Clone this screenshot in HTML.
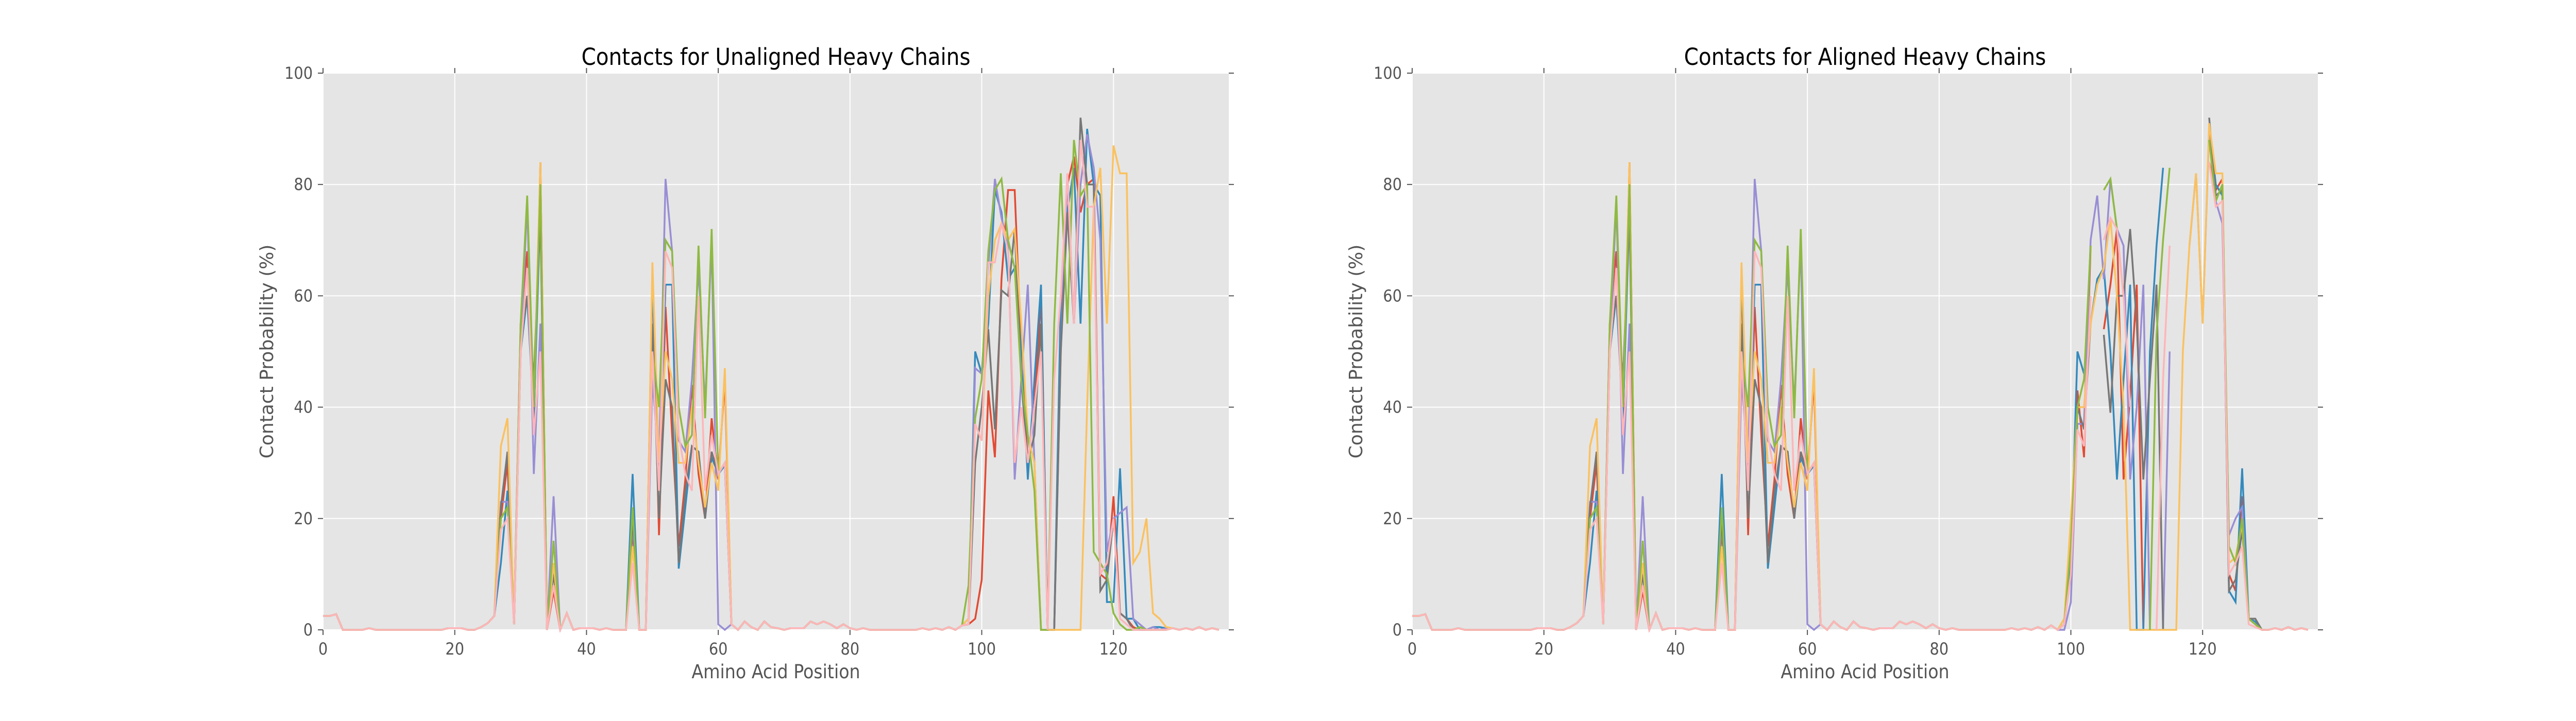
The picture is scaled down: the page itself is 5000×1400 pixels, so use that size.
<!DOCTYPE html>
<html><head><meta charset="utf-8"><style>
html,body{margin:0;padding:0;background:#fff;}
svg{display:block;}
text{font-family:"DejaVu Sans Condensed","Liberation Sans Narrow","Liberation Sans",sans-serif;}
</style></head>
<body>
<svg id="fig" width="5000" height="1400" viewBox="0 0 5000 1400" xmlns="http://www.w3.org/2000/svg"></svg>
<script>
const xTicks = [0,20,40,60,80,100,120];
const yTicks = [0,20,40,60,80,100];
const colors = ["#E24A33","#348ABD","#988ED5","#777777","#FBC15E","#8EBA42","#FFB5B8"];
const seriesNames = ["red","blue","purple","gray","yellow","green","pink"];
const baselineNonzero = [[0,2.5],[1,2.5],[2,2.8],[7,0.3],[19,0.3],[20,0.3],[21,0.3],[24,0.5],[25,1.2],[26,2.5],[39,0.3],[40,0.3],[41,0.3],[43,0.3],[64,1.5],[65,0.5],[67,1.5],[68,0.5],[69,0.3],[71,0.3],[72,0.3],[73,0.3],[74,1.5],[75,1],[76,1.5],[77,1],[78,0.3],[79,1],[80,0.3],[82,0.3],[91,0.3],[93,0.3],[95,0.5],[97,0.8],[129,0.3],[131,0.3],[133,0.5],[135,0.3]];
const region1Start = 27, region2Start = 47, region3Start = 98;
const r1 = {
 red:[20,30,1,55,68,37,84,0,7,0,3,0],
 blue:[12,25,1,50,60,38,76,0,12,0,3,0],
 purple:[23,23,1,50,77,28,55,0,24,0,3,0],
 gray:[22,32,1,52,60,45,75,0,10,0,3,0],
 yellow:[33,38,1,50,65,40,84,0,12,0,3,0],
 green:[20,22,1,55,78,40,80,0,16,0,3,0],
 pink:[18,20,1,50,65,35,50,0,8,0,3,0]
};
const r2 = {
 red:[18,0,0,64,17,58,35,15,27,44,28,20,38,27,45,1],
 blue:[28,0,0,64,25,62,62,11,22,33,32,20,31,28,29.5,1],
 purple:[19,0,0,45,30,81,68,34,32,45,65,40,70,1,0,1],
 gray:[20,0,0,55,20,45,40,12,25,33,32,20,32,28,30,1],
 yellow:[15,0,0,66,30,50,45,30,30,40,30,22,30,25,47,1],
 green:[22,0,0,50,40,70,68,40,33,35,69,38,72,28,30,1],
 pink:[12,0,0,50,25,68,65,35,28,25,60,25,35,28,30,1]
};
const r3Unaligned = {
 red:[1,2,9,43,31,63,79,79,50,30,40,60,0,0,55,80,85,75,80,81,10,9,24,3,2,0.5,0,0,0,0,0],
 blue:[2,50,46,55,79,75,63,65,50,27,45,62,0,0,60,75,83,55,90,80,78,5,5,29,2,2,0,0,0.5,0.5,0.3],
 purple:[1,47,46,65,81,74,69,27,45,62,30,0,0,0,50,82,55,80,89,83,70,14,20,21,22,2,1,0,0.5,0,0.3],
 gray:[1,30,40,54,36,61,60,72,45,30,35,55,0,0,50,75,55,92,80,80,7,9,20,3,2,0,0,0,0,0,0],
 yellow:[2,37,34,60,70,73,70,72,55,35,30,0,0,0,0,0,0,0,40,76,83,55,87,82,82,12,14,20,3,2,0.5],
 green:[8,38,45,68,79,81,70,65,45,35,25,0,0,55,82,55,88,78,80,14,12,10,3,1,0,0,0.5,0,0,0,0],
 pink:[1,37,34,66,66,73,68,30,40,30,40,50,0,45,60,82,55,88,76,76,10,12,20,2,1,0,0,0,0,0,0]
};
const r3Aligned = {
 red:[0,1,12,43,31,69,null,54,62,72,27,42,62,0,null,null,null,null,null,null,null,null,null,84,79,81,10,7,24,2,1,0],
 blue:[0,2,12,50,46,55,63,65,50,27,45,62,0,0,50,69,83,null,null,null,null,null,null,91,80,78,7,5,29,2,1.5,0],
 purple:[0,0,5,37,37,70,78,63,81,72,69,27,40,62,0,null,0,50,null,null,69,82,55,90,77,73,17,20,22,2,1,0],
 gray:[0,1,10,40,36,55,null,53,39,60,60,72,55,27,45,62,0,null,null,null,null,null,null,92,78,79,7,9,18,2,2,0],
 yellow:[0,2,20,40,40,55,62,65,74,60,40,0,0,0,0,0,0,0,0,50,69,82,55,91,82,82,12,13,19,2,1,0],
 green:[0,1,15,40,45,69,null,79,81,72,60,null,null,null,0,53,70,83,null,null,null,null,null,88,77,80,15,12,20,2,1,0],
 pink:[0,1,10,36,33,60,null,70,74,72,60,40,null,null,null,0,45,69,null,null,null,null,null,84,76,77,10,12,15,1,0.5,0]
};
const nPos = 137;

const NS="http://www.w3.org/2000/svg";
const svg=document.getElementById('fig');
function mk(tag,attrs,parent){const e=document.createElementNS(NS,tag);for(const k in attrs)e.setAttribute(k,attrs[k]);(parent||svg).appendChild(e);return e;}

function buildSeries(name,r3){
  const v=new Array(nPos).fill(0);
  baselineNonzero.forEach(p=>{v[p[0]]=p[1];});
  r1[name].forEach((d,i)=>{v[region1Start+i]=d;});
  r2[name].forEach((d,i)=>{v[region2Start+i]=d;});
  r3[name].forEach((d,i)=>{v[region3Start+i]=d;});
  return v;
}

function drawChart(L,title,r3,chartName){
  const T=142,B=1223,W=1758,R=L+W;
  const xMax=137.5;
  const sx=x=>L+x/xMax*W;
  const sy=y=>B-y/100*(B-T);
  const g=mk('g',{});
  
  
  const bg=mk('rect',{x:L,y:T,width:W,height:B-T,fill:'#E5E5E5'},g);
  
  
  const grid=mk('g',{stroke:'#fff','stroke-width':2},g);
  
  
  xTicks.forEach(t=>{mk('line',{x1:sx(t),x2:sx(t),y1:T,y2:B},grid);});
  yTicks.forEach(t=>{mk('line',{x1:L,x2:R,y1:sy(t),y2:sy(t)},grid);});
  const ticks=mk('g',{stroke:'#555','stroke-width':2},g);
  
  
  xTicks.forEach(t=>{mk('line',{x1:sx(t),x2:sx(t),y1:B,y2:B+10},ticks);mk('line',{x1:sx(t),x2:sx(t),y1:T,y2:T-10},ticks);});
  yTicks.forEach(t=>{mk('line',{x1:L-10,x2:L,y1:sy(t),y2:sy(t)},ticks);mk('line',{x1:R,x2:R+10,y1:sy(t),y2:sy(t)},ticks);});
  xTicks.forEach(t=>{const e=mk('text',{x:sx(t),y:B+48,'text-anchor':'middle','font-size':32,fill:'#555'},g);e.textContent=t;
    });
  yTicks.forEach(t=>{const e=mk('text',{x:L-20,y:sy(t)+11,'text-anchor':'end','font-size':32,fill:'#555'},g);e.textContent=t;
    });
  const tt=mk('text',{x:L+W/2,y:126,'text-anchor':'middle','font-size':45,fill:'#000'},g);tt.textContent=title;
  
  const xl=mk('text',{x:L+W/2,y:1317,'text-anchor':'middle','font-size':37,fill:'#555'},g);xl.textContent='Amino Acid Position';
  
  const yx=L-97,yy=(T+B)/2;
  const yl=mk('text',{x:yx,y:yy,'text-anchor':'middle','font-size':36,fill:'#555',transform:`rotate(-90 ${yx} ${yy})`,style:'font-family:"DejaVu Sans",sans-serif;'},g);
  yl.textContent='Contact Probability (%)';
  
  const clip=mk('clipPath',{id:'clip'+chartName},g);
  mk('rect',{x:L,y:T-5,width:W,height:B-T+10},clip);
  const lines=mk('g',{'clip-path':`url(#clip${chartName})`,fill:'none','stroke-width':3.5,'stroke-linejoin':'miter'},g);
  seriesNames.forEach((nm,si)=>{
    const v=buildSeries(nm,r3);
    let d='',pen=false;
    v.forEach((y,x)=>{
      if(y===null){pen=false;return;}
      d+=(pen?'L':'M')+sx(x).toFixed(1)+' '+sy(y).toFixed(1)+' ';pen=true;
    });
    const p=mk('path',{d:d,stroke:colors[si]},lines);
    
    
  });
}
drawChart(627,'Contacts for Unaligned Heavy Chains',r3Unaligned,'unaligned-chart');
drawChart(2741,'Contacts for Aligned Heavy Chains',r3Aligned,'aligned-chart');
</script>
</body></html>
